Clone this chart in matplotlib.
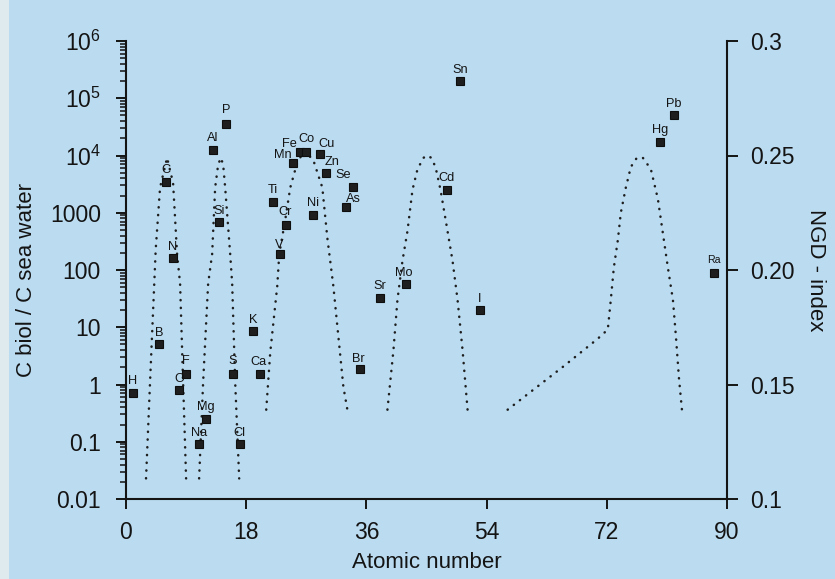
import matplotlib
matplotlib.use("Agg")
import matplotlib.pyplot as plt
from matplotlib.ticker import LogLocator, NullFormatter, FixedLocator, FixedFormatter
from matplotlib.patches import Rectangle

# ---- data -------------------------------------------------------------
elements = ["H", "B", "C", "N", "O", "F", "Na", "Mg", "Al", "Si", "P", "S", "Cl",
            "K", "Ca", "Ti", "V", "Cr", "Mn", "Fe", "Co", "Ni", "Cu", "Zn", "As",
            "Se", "Br", "Sr", "Mo", "Cd", "Sn", "I", "Hg", "Pb", "Ra"]
atomic_number = [1, 5, 6, 7, 8, 9, 11, 12, 13, 14, 15, 16, 17,
                 19, 20, 22, 23, 24, 25, 26, 27, 28, 29, 30, 33,
                 34, 35, 38, 42, 48, 50, 53, 80, 82, 88]
enrichment = [0.7, 5.0, 3500, 160, 0.8, 1.5, 0.09, 0.25, 12500, 680, 35000, 1.5, 0.09,
              8.5, 1.5, 1550, 190, 600, 7500, 11500, 11500, 930, 10500, 5000, 1250,
              2850, 1.9, 33, 57, 2500, 2.0e5, 20, 17500, 50000, 90]

# NGD-index curves (atomic number, index) for each block of the periodic table
ngd_z_1 = [3.0, 3.6, 4.45, 5.1, 6.15, 7.05, 7.65, 8.1, 8.55, 9.0]
ngd_v_1 = [0.109, 0.151, 0.209, 0.236, 0.249, 0.238, 0.207, 0.194, 0.151, 0.109]
ngd_z_2 = [10.95, 11.55, 12.3, 12.9, 13.35, 13.8, 14.2, 14.55, 14.85, 15.6, 15.9, 16.35, 16.95]
ngd_v_2 = [0.109, 0.151, 0.194, 0.207, 0.236, 0.246, 0.249, 0.246, 0.236, 0.207, 0.194, 0.151, 0.109]
ngd_z_3 = [21.0, 21.6, 22.65, 22.95, 23.85, 24.6, 25.65, 26.7, 28.05, 29.4, 30.15, 31.05, 31.8, 32.55, 33.15]
ngd_v_3 = [0.139, 0.164, 0.193, 0.207, 0.222, 0.236, 0.247, 0.252, 0.248, 0.236, 0.214, 0.193, 0.171, 0.149, 0.139]
ngd_z_4 = [39.15, 40.05, 40.65, 41.4, 42.15, 42.9, 43.65, 44.55, 45.15, 45.7, 46.35, 47.1, 48.15, 48.9, 49.65, 50.4, 51.15]
ngd_v_4 = [0.139, 0.165, 0.187, 0.204, 0.217, 0.235, 0.244, 0.249, 0.250, 0.249, 0.245, 0.235, 0.217, 0.204, 0.187, 0.165, 0.139]
ngd_z_5 = [57.15, 65.55, 70.65, 72.15, 72.6, 73.05, 73.65, 74.1, 74.85, 75.6, 76.5, 77.4, 78.6, 79.65,
           80.4, 81.15, 81.9, 82.35, 82.8, 83.25]
ngd_v_5 = [0.139, 0.158, 0.170, 0.174, 0.187, 0.201, 0.213, 0.225, 0.236, 0.245, 0.249, 0.249, 0.244, 0.231,
           0.216, 0.201, 0.187, 0.171, 0.153, 0.139]

left_ticks = [0.01, 0.1, 1, 10, 100, 1000, 1e4, 1e5, 1e6]
left_tick_labels = ["0.01", "0.1", "1", "10", "100", "1000", r"$10^4$", r"$10^5$", r"$10^6$"]
right_ticks = [0.1, 0.15, 0.2, 0.25, 0.3]
right_tick_labels = ["0.1", "0.15", "0.20", "0.25", "0.3"]
x_ticks = [0, 18, 36, 54, 72, 90]

# ---- style --------------------------------------------------------------
BG = "#badbf0"
INK = "#141414"
plt.rcParams["font.family"] = ["Liberation Sans", "DejaVu Sans"]
plt.rcParams["mathtext.fontset"] = "custom"
plt.rcParams["mathtext.rm"] = "Liberation Sans"
plt.rcParams["mathtext.it"] = "Liberation Sans:italic"
plt.rcParams["mathtext.bf"] = "Liberation Sans:bold"

# label offsets (pixels, label centre relative to marker)
label_offset = {"Fe": (-10.5, 8), "Co": (0, 13), "Cu": (6.5, 10), "Mn": (-10, 8),
                "Zn": (6, 11), "Se": (-10, 11.5), "As": (6.7, 8), "Cr": (-1, 13.5),
                "V": (0, 9), "Ca": (-1.5, 12), "Br": (-1, 10), "Mo": (-3, 11),
                "P": (0, 14), "S": (0, 13.5), "F": (0, 13), "H": (0, 12.5), "Ra": (0, 13)}
default_offset = (0, 11.5)

W, H = 835, 579
fig = plt.figure(figsize=(W / 100, H / 100), dpi=100, facecolor=BG)
fig.patches.append(Rectangle((0, 0), 9 / W, 1, transform=fig.transFigure,
                             facecolor="#dfeaee", edgecolor="none", zorder=0))

ax = fig.add_axes([126 / W, 80 / H, 601 / W, 458 / H])
ax2 = ax.twinx()
ax.set_zorder(ax2.get_zorder() + 1)
ax.patch.set_visible(False)
ax2.patch.set_visible(False)

# left axis: enrichment
ax.set_xlim(0, 90)
ax.set_yscale("log")
ax.set_ylim(0.01, 1e6)
ax.yaxis.set_major_locator(FixedLocator(left_ticks))
ax.yaxis.set_major_formatter(FixedFormatter(left_tick_labels))
ax.yaxis.set_minor_locator(LogLocator(base=10, subs=range(2, 10), numticks=20))
ax.yaxis.set_minor_formatter(NullFormatter())
ax.set_xticks(x_ticks)

ax.plot(atomic_number, enrichment, ls="none", marker="s", ms=5.8,
        color="#1e1e1e", mec="#0e0e0e", mew=0.8, zorder=4)
for sym, z, v in zip(elements, atomic_number, enrichment):
    dx, dy = label_offset.get(sym, default_offset)
    ax.annotate(sym, (z, v), xytext=(dx * 0.72, dy * 0.72), textcoords="offset points",
                ha="center", va="center", fontsize=7.6 if sym == "Ra" else 9.2,
                color=INK, zorder=5)

# right axis: NGD-index
ax2.set_ylim(0.1, 0.3)
ax2.set_yticks(right_ticks)
ax2.set_yticklabels(right_tick_labels)
dot_style = dict(color="#1e1e1e", lw=1.8, ls=(0, (0.1, 3.0)), dash_capstyle="round")
for zs, vs in [(ngd_z_1, ngd_v_1), (ngd_z_2, ngd_v_2), (ngd_z_3, ngd_v_3),
               (ngd_z_4, ngd_v_4), (ngd_z_5, ngd_v_5)]:
    ax2.plot(zs, vs, **dot_style)

# spines and ticks
for a in (ax, ax2):
    a.spines["top"].set_visible(False)
    for s in a.spines.values():
        s.set_linewidth(1.5)
        s.set_color(INK)
ax.spines["right"].set_visible(False)
ax2.spines["left"].set_visible(False)
ax2.spines["bottom"].set_visible(False)

ax.tick_params(axis="y", which="major", direction="out", length=7.5, width=1.4,
               color=INK, labelsize=16.5, labelcolor=INK, pad=10.5)
ax.tick_params(axis="y", which="minor", direction="out", length=4, width=1.1, color=INK)
ax.tick_params(axis="x", which="major", direction="out", length=7.5, width=1.4,
               color=INK, labelsize=16.5, labelcolor=INK, pad=8.5)
ax2.tick_params(axis="y", which="major", direction="out", length=8, width=1.4,
                color=INK, labelsize=16.5, labelcolor=INK, pad=9)

ax.set_xlabel("Atomic number", fontsize=16, color=INK, labelpad=5.5)
ax.set_ylabel("C biol / C sea water", fontsize=16, color=INK)
ax.yaxis.set_label_coords(-0.148, 0.478)
ax2.set_ylabel("NGD - index", fontsize=16, color=INK, rotation=270, va="center")
ax2.yaxis.set_label_coords(1.148, 0.5)

fig.savefig("out.png", dpi=100, facecolor=BG)
